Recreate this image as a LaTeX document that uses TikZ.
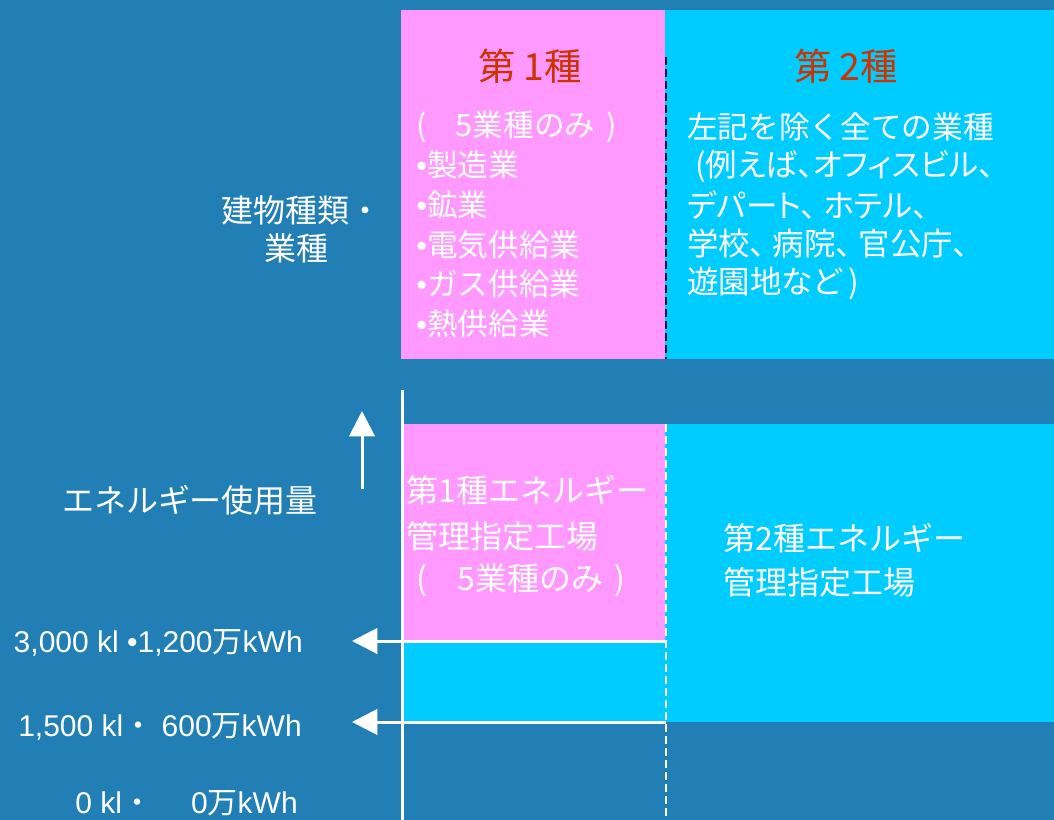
\documentclass[tikz,border=0pt]{standalone}
\usepackage{fontspec}
\setmainfont{Noto Sans CJK JP}
\newfontfamily\jpp[RawFeature=+palt]{Noto Sans CJK JP}
\newfontfamily\lat{Liberation Sans}
\usetikzlibrary{arrows.meta}
\definecolor{bgblue}{RGB}{33,127,181}
\definecolor{pinkc}{RGB}{255,153,255}
\definecolor{cyanc}{RGB}{0,204,255}
\definecolor{titlered}{RGB}{204,51,0}
\definecolor{darkdash}{RGB}{30,25,60}
\newcommand{\bul}{{\lat •}}
\begin{document}
\begin{tikzpicture}[x=0.75pt,y=-0.75pt,
  body/.style={text=white,inner sep=0pt,anchor=west,font=\fontsize{23}{28}\selectfont},
  bodyp/.style={text=white,inner sep=0pt,anchor=west,font=\fontsize{23.6}{28}\selectfont\jpp},
  lower/.style={text=white,inner sep=0pt,anchor=west,font=\fontsize{24}{28}\selectfont},
  title/.style={text=titlered,inner sep=0pt,font=\fontsize{28}{32}\selectfont},
  side/.style={text=white,inner sep=0pt,font=\fontsize{24}{28}\selectfont},
  amount/.style={text=white,inner sep=0pt,anchor=east,font=\fontsize{22.5}{26}\selectfont},
  wline/.style={white,line width=2.25pt},
  levelarrow/.style={wline,-{Triangle[length=19pt,width=19pt]}},
]
\useasboundingbox (0,0) rectangle (1054,820);
\fill[bgblue] (0,0) rectangle (1054,820);
% boxes
\fill[pinkc] (401,10) rectangle (665,359);
\fill[cyanc] (665,10) rectangle (1054,359);
\fill[pinkc] (404,424) rectangle (665,640);
\fill[cyanc] (404,640) rectangle (665,722);
\fill[cyanc] (665,424) rectangle (1054,722);
% dashed separators
\draw[darkdash,line width=1.5pt,dash pattern=on 6pt off 3pt] (665.5,57) -- (665.5,359);
\draw[white,line width=1.5pt,dash pattern=on 6pt off 3pt] (666,424) -- (666,820);
% axis
\coordinate (axtop) at (402,390);
\coordinate (axbot) at (402,820);
\draw[wline] (axtop) -- (axbot);
% up arrow
\coordinate (upS) at (362,489);
\coordinate (upE) at (362,411);
\draw[levelarrow] (upS) -- (upE);
% level arrows
\coordinate (l1S) at (666,641);
\coordinate (l1E) at (352,641);
\coordinate (l2S) at (666,722);
\coordinate (l2E) at (352,722);
\draw[levelarrow] (l1S) -- (l1E);
\draw[levelarrow] (l2S) -- (l2E);
% titles
\node[title] (t1) at (530,66) {第 1種};
\node[title] (t2) at (846,66) {第 2種};
% pink top list
\node[body] (p0) at (416,127) {(\hspace{0.95em}5業種のみ\hspace{0.35em})};
\node[body] (p1) at (416,165) {\bul 製造業};
\node[body] (p2) at (416,205) {\bul 鉱業};
\node[body] (p3) at (416,245) {\bul 電気供給業};
\node[body] (p4) at (416,284) {\bul ガス供給業};
\node[body] (p5) at (416,324) {\bul 熱供給業};
% cyan top list
\node[body] (c0) at (687,127) {左記を除く全ての業種};
\node[bodyp] (c1) at (695,166) {(例えば、オフィスビル、};
\node[bodyp] (c2) at (687,205) {デパート、 ホテル、};
\node[bodyp] (c3) at (687,244) {学校、 病院、 官公庁、};
\node[bodyp] (c4) at (687,283) {遊園地など )};
% side labels
\node[side] (s1) at (301,210) {建物種類・};
\node[side] (s2) at (296,248) {業種};
\node[side] (s3) at (190,500) {エネルギー使用量};
% amounts
\node[amount] (a1) at (303,643) {{\lat 3,000 kl •1,200}万{\lat kWh}};
\node[amount] (a2) at (302,727) {{\lat 1,500 kl}・{\lat\ 600}万{\lat kWh}};
\node[amount] (a3) at (298,803) {{\lat 0 kl}・\hspace{1.3em}{\lat 0}万{\lat kWh}};
% lower texts
\node[lower] (f1a) at (406,490) {第1種エネルギー};
\node[lower] (f1b) at (406,536) {管理指定工場};
\node[lower] (f1c) at (416,580) {(\hspace{0.95em}5業種のみ\hspace{0.35em})};
\node[lower] (f2a) at (723,538) {第2種エネルギー};
\node[lower] (f2b) at (723,582) {管理指定工場};
\end{tikzpicture}
\end{document}
